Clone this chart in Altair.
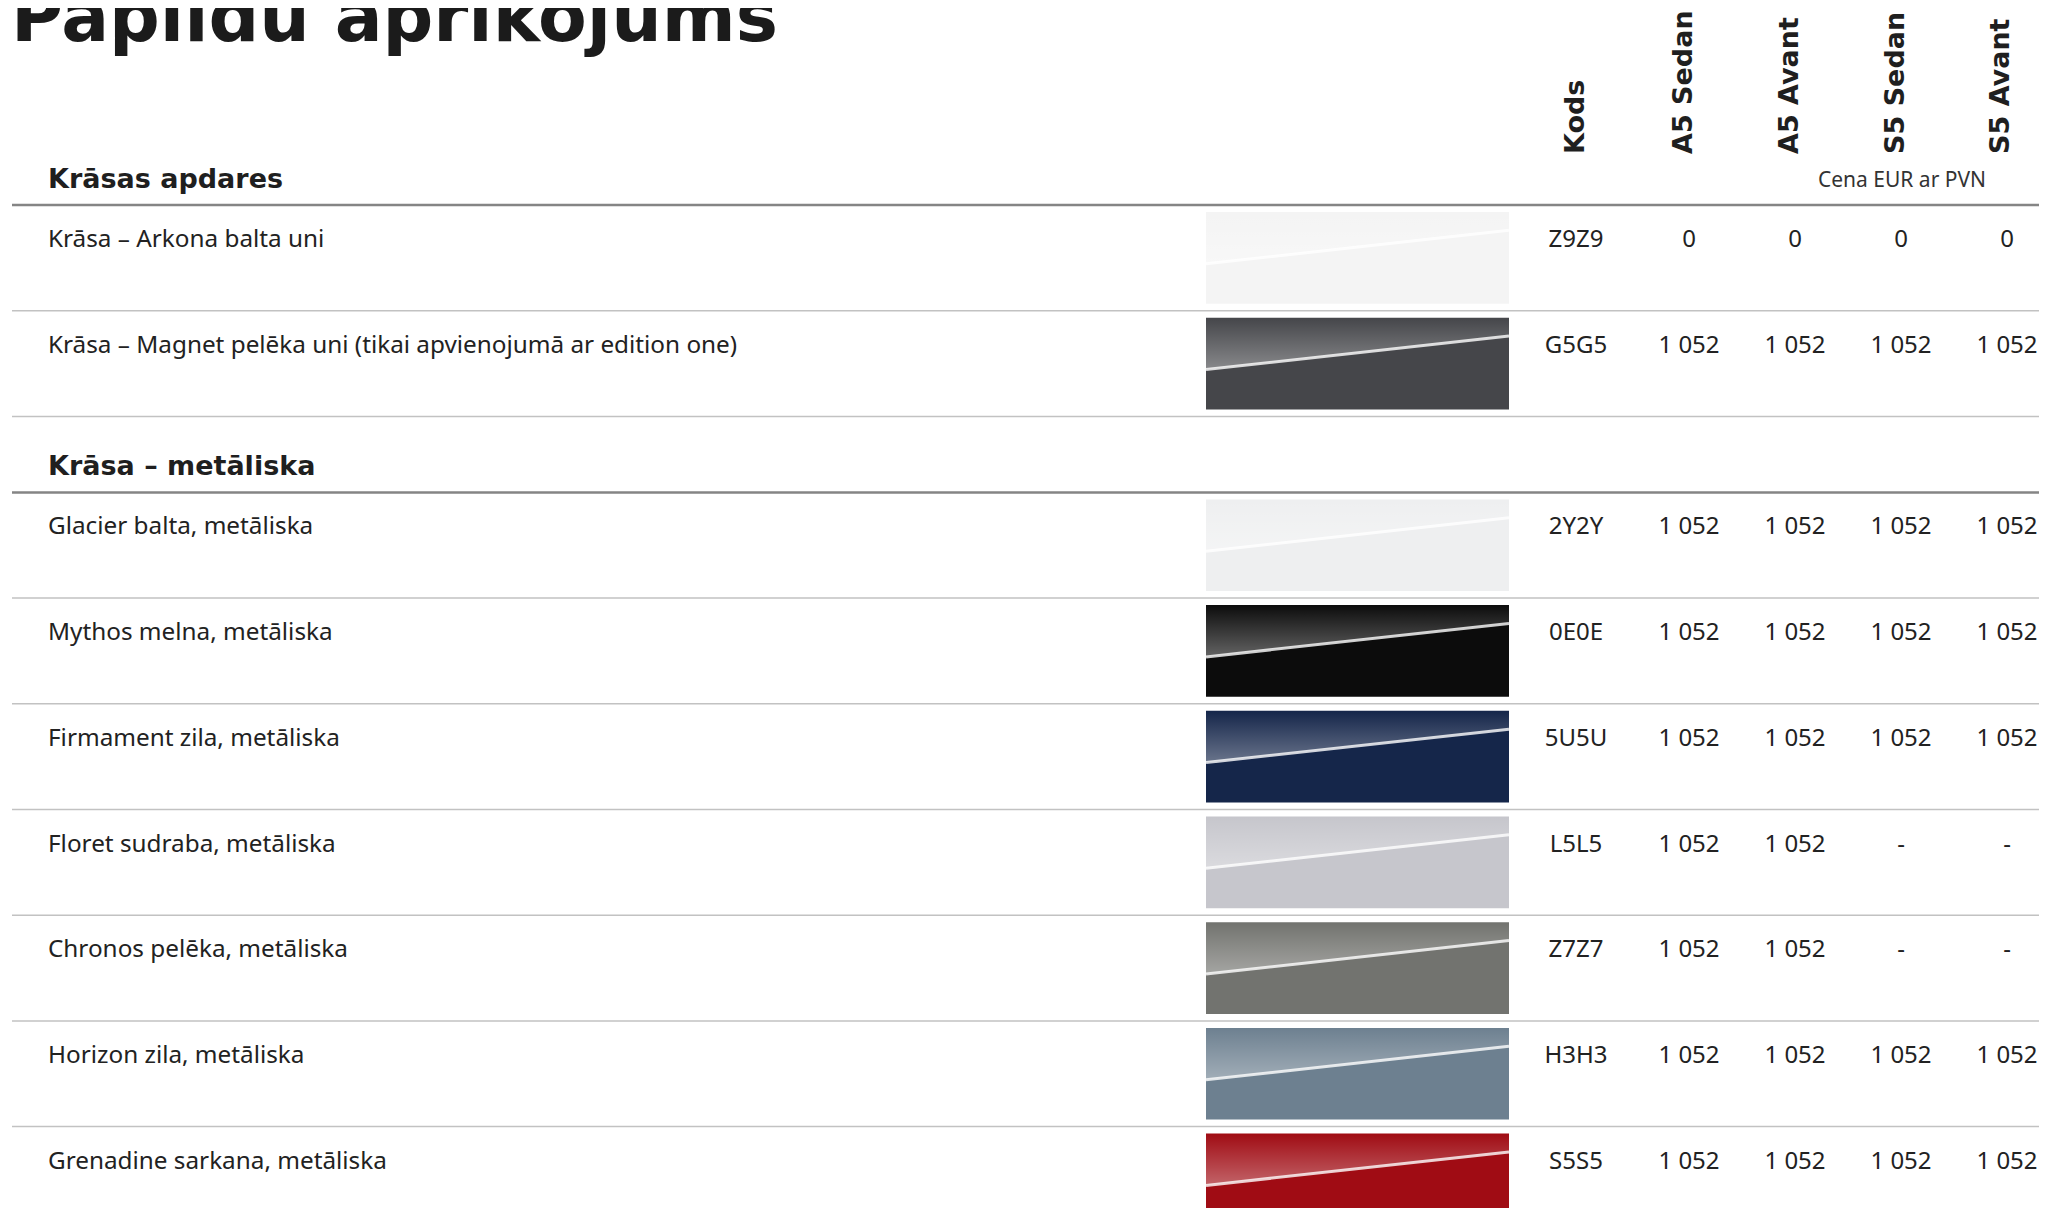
import altair as alt
import pandas as pd

# ---------------- data ----------------
title_text = "Papildu aprīkojums"
section_titles = ["Krāsas apdares", "Krāsa – metāliska"]
price_note = "Cena EUR ar PVN"
code_header = "Kods"
models = ["A5 Sedan", "A5 Avant", "S5 Sedan", "S5 Avant"]

color_names = [
    "Krāsa – Arkona balta uni",
    "Krāsa – Magnet pelēka uni (tikai apvienojumā ar edition one)",
    "Glacier balta, metāliska",
    "Mythos melna, metāliska",
    "Firmament zila, metāliska",
    "Floret sudraba, metāliska",
    "Chronos pelēka, metāliska",
    "Horizon zila, metāliska",
    "Grenadine sarkana, metāliska",
]
row_section = [0, 0, 1, 1, 1, 1, 1, 1, 1]
codes = ["Z9Z9", "G5G5", "2Y2Y", "0E0E", "5U5U", "L5L5", "Z7Z7", "H3H3", "S5S5"]
price_a5_sedan = ["0", "1 052", "1 052", "1 052", "1 052", "1 052", "1 052", "1 052", "1 052"]
price_a5_avant = ["0", "1 052", "1 052", "1 052", "1 052", "1 052", "1 052", "1 052", "1 052"]
price_s5_sedan = ["0", "1 052", "1 052", "1 052", "1 052", "-", "-", "1 052", "1 052"]
price_s5_avant = ["0", "1 052", "1 052", "1 052", "1 052", "-", "-", "1 052", "1 052"]
swatch_colors = ["#f4f4f4", "#45464a", "#eeeff0", "#0c0c0c", "#15264a",
                 "#c6c6cc", "#72736f", "#6d8090", "#a00c14"]

prices = [price_a5_sedan, price_a5_avant, price_s5_sedan, price_s5_avant]

# ---------------- layout ----------------
W, H = 2031, 1200
X0, Y0 = 8, 8
ROW_H = 105.7
SECTION_GAP = 76
FIRST_RULE = 205
RULE_X = (12, 2047)
NAME_X = 48
SW_X = (1206, 1509)
SW_PAD = 7
CODE_X = 1576
MODEL_X = [1689, 1795, 1901, 2007]
HEAD_X = [1576, 1684, 1790, 1896, 2001]
HEAD_Y = 154
TEXT_DY = 42

section_rule = {}
row_top = []
yy = FIRST_RULE
prev = None
for s in row_section:
    if s != prev:
        if prev is not None:
            yy += SECTION_GAP
        section_rule[s] = yy
        prev = s
    row_top.append(yy)
    yy += ROW_H

xs = alt.Scale(domain=[X0, X0 + W], nice=False, zero=False)
ys = alt.Scale(domain=[Y0, Y0 + H], nice=False, zero=False, reverse=True)


def X(f="x"):
    return alt.X(f"{f}:Q", scale=xs, axis=None)


def Y(f="y"):
    return alt.Y(f"{f}:Q", scale=ys, axis=None)


# rules
thick = pd.DataFrame({"y": [section_rule[s] for s in sorted(section_rule)],
                      "x": RULE_X[0], "x2": RULE_X[1]})
thin = pd.DataFrame({"y": [t + ROW_H for t in row_top], "x": RULE_X[0], "x2": RULE_X[1]})

thick_layer = alt.Chart(thick).mark_rule(color="#858585", strokeWidth=2.5).encode(
    x=X(), x2="x2:Q", y=Y())
thin_layer = alt.Chart(thin).mark_rule(color="#c2c2c2", strokeWidth=1.5).encode(
    x=X(), x2="x2:Q", y=Y())

# swatches
sw = pd.DataFrame({
    "row": list(range(len(codes))),
    "x": SW_X[0], "x2": SW_X[1],
    "y": [t + SW_PAD for t in row_top],
    "y2": [t + ROW_H - SW_PAD for t in row_top],
    "fill": swatch_colors,
})
sw_layer = alt.Chart(sw).mark_rect().encode(
    x=X(), x2="x2:Q", y=Y(), y2="y2:Q", color=alt.Color("fill:N", scale=None))

sh = ROW_H - 2 * SW_PAD
glow_rows = []
hl_rows = []
for i, t in enumerate(row_top):
    top = t + SW_PAD
    yl = top + 0.565 * sh
    yr = top + 0.20 * sh
    glow_rows.append({"row": i, "x": SW_X[0], "y": yl, "y2": top})
    glow_rows.append({"row": i, "x": SW_X[1], "y": yr, "y2": top})
    hl_rows.append({"row": i, "x": SW_X[0], "y": yl, "x2": SW_X[1], "y2": yr})
glow = pd.DataFrame(glow_rows)
hl = pd.DataFrame(hl_rows)

grad = alt.LinearGradient(
    gradient="linear",
    stops=[alt.GradientStop(color="rgba(255,255,255,0.0)", offset=0),
           alt.GradientStop(color="rgba(255,255,255,0.36)", offset=1)],
    x1=0, x2=0, y1=0, y2=1)
glow_layer = alt.Chart(glow).mark_area(color=grad).encode(
    x=X(), y=Y(), y2="y2:Q", detail="row:N")
hl_layer = alt.Chart(hl).mark_rule(color="white", strokeWidth=3, opacity=0.8).encode(
    x=X(), y=Y(), x2="x2:Q", y2="y2:Q")

# texts
title_df = pd.DataFrame({"x": [11], "y": [41], "t": [title_text]})
title_layer = alt.Chart(title_df).mark_text(
    align="left", baseline="alphabetic", font="DejaVu Sans", fontWeight="bold",
    fontSize=71, color="#1b1b1b").encode(x=X(), y=Y(), text="t:N")

sec_df = pd.DataFrame({"x": NAME_X, "y": [section_rule[s] - 17 for s in sorted(section_rule)],
                       "t": section_titles})
sec_layer = alt.Chart(sec_df).mark_text(
    align="left", baseline="alphabetic", font="DejaVu Sans", fontWeight="bold",
    fontSize=27, color="#1f1f1f").encode(x=X(), y=Y(), text="t:N")

head_df = pd.DataFrame({"x": HEAD_X, "y": HEAD_Y, "t": [code_header] + models})
head_layer = alt.Chart(head_df).mark_text(
    align="left", baseline="middle", angle=270, font="DejaVu Sans", fontWeight="bold",
    fontSize=27, color="#1f1f1f").encode(x=X(), y=Y(), text="t:N")

note_df = pd.DataFrame({"x": [1902], "y": [187], "t": [price_note]})
note_layer = alt.Chart(note_df).mark_text(
    align="center", baseline="alphabetic", font="Noto Sans", fontSize=21,
    color="#333333").encode(x=X(), y=Y(), text="t:N")

name_df = pd.DataFrame({"x": NAME_X, "y": [t + TEXT_DY for t in row_top], "t": color_names})
name_layer = alt.Chart(name_df).mark_text(
    align="left", baseline="alphabetic", font="Noto Sans", fontSize=24.3,
    color="#222222").encode(x=X(), y=Y(), text="t:N")

cells = []
for i, t in enumerate(row_top):
    cells.append({"x": CODE_X, "y": t + TEXT_DY, "t": codes[i]})
    for j, p in enumerate(prices):
        cells.append({"x": MODEL_X[j], "y": t + TEXT_DY, "t": p[i]})
cell_df = pd.DataFrame(cells)
cell_layer = alt.Chart(cell_df).mark_text(
    align="center", baseline="alphabetic", font="Noto Sans", fontSize=24,
    color="#222222").encode(x=X(), y=Y(), text="t:N")

chart = alt.layer(
    thin_layer, thick_layer, sw_layer, glow_layer, hl_layer,
    title_layer, sec_layer, head_layer, note_layer, name_layer, cell_layer,
).properties(
    width=W, height=H, padding=0, background="white",
    autosize=alt.AutoSizeParams(type="none"),
).configure_view(stroke=None)

chart.save("out.html", embed_options={"renderer": "svg", "actions": False})
